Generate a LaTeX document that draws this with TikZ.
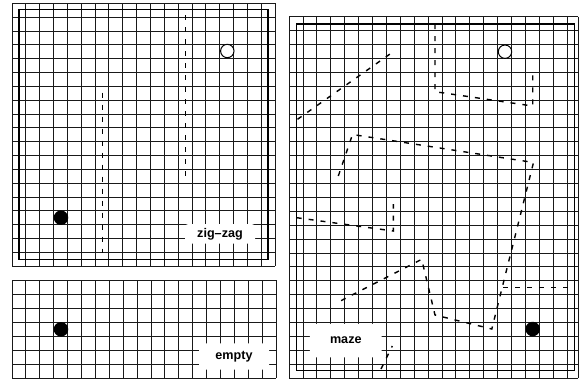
\documentclass[tikz,border=0pt]{standalone}
\usepackage{fontspec}
\setmainfont{Liberation Sans}
\begin{document}
\begin{tikzpicture}[x=1pt,y=-1pt,
  gridline/.style={line width=0.8pt,black!90},
  frame/.style={line width=1.3pt,black},
  wall/.style={line width=1.4pt,black,dash pattern=on 5pt off 7pt},
  goal/.style={circle,draw=black,fill=white,line width=1pt,minimum size=13.4pt,inner sep=0pt},
  agent/.style={circle,fill=black,minimum size=14.5pt,inner sep=0pt},
  lab/.style={fill=white,rounded corners=3pt,inner sep=0pt,font=\fontsize{12.6}{14}\selectfont\bfseries}]
\fill[white] (0,0) rectangle (583,380);
\useasboundingbox (0,0) rectangle (583,380);

% ---------- zig-zag panel ----------
\foreach \i in {0,...,19}{
  \draw[gridline] ({12+\i*13.84},3.3) -- ({12+\i*13.84},266);
  \draw[gridline] (12,{3.3+\i*13.83}) -- (275,{3.3+\i*13.83});
}
\draw[frame] (19,9.3) rectangle (268,259.3);
\draw[wall] (102.3,92.7) -- (102.3,253);
\draw[wall] (185.3,15) -- (185.3,176.7);
\node[goal] (zzgoal) at (227.3,51) {};
\node[agent] (zzagent) at (61,217.7) {};
\node[lab,minimum width=70pt,minimum height=19.5pt] (zzlab) at (220,233.8) {zig--zag};

% ---------- empty panel ----------
\foreach \i in {0,...,19}{
  \draw[gridline] ({12+\i*13.89},280) -- ({12+\i*13.89},378);
}
\foreach \j in {0,...,7}{
  \draw[gridline] (12,{280+\j*14}) -- (276,{280+\j*14});
}
\node[agent] (emagent) at (61,329.3) {};
\node[lab,minimum width=70pt,minimum height=26.3pt] (emlab) at (234,356.5) {empty};

% ---------- maze panel ----------
\foreach \i in {0,...,20}{
  \draw[gridline] ({289+\i*13.9},16.7) -- ({289+\i*13.9},378);
}
\draw[gridline] (578,16.7) -- (578,378);
\foreach \j in {0,...,26}{
  \draw[gridline] (289,{16.7+\j*13.896}) -- (578,{16.7+\j*13.896});
}
\draw[frame] (296.7,24) rectangle (574.7,370.7);
\draw[wall] (297.5,119.3) -- (391,53.3);
\draw[wall] (435,24) -- (435,91.7) -- (532.7,106) -- (532.7,70);
\draw[wall] (338.3,176) -- (352.5,134.5) -- (533.5,162.5) -- (491.8,329) -- (435,315)
  -- (421.7,259.3) -- (339,301.7);
\draw[wall] (296.7,217.7) -- (393.3,231) -- (393.3,204);
\draw[wall] (381,369) -- (392.3,346);
\draw[wall] (503,287.3) -- (574.7,287.3);
\node[goal] (mzgoal) at (505,51.7) {};
\node[agent] (mzagent) at (532.7,329) {};
\node[lab,minimum width=71.7pt,minimum height=33.3pt] (mzlab) at (345.8,340.6) {maze};
\end{tikzpicture}
\end{document}
